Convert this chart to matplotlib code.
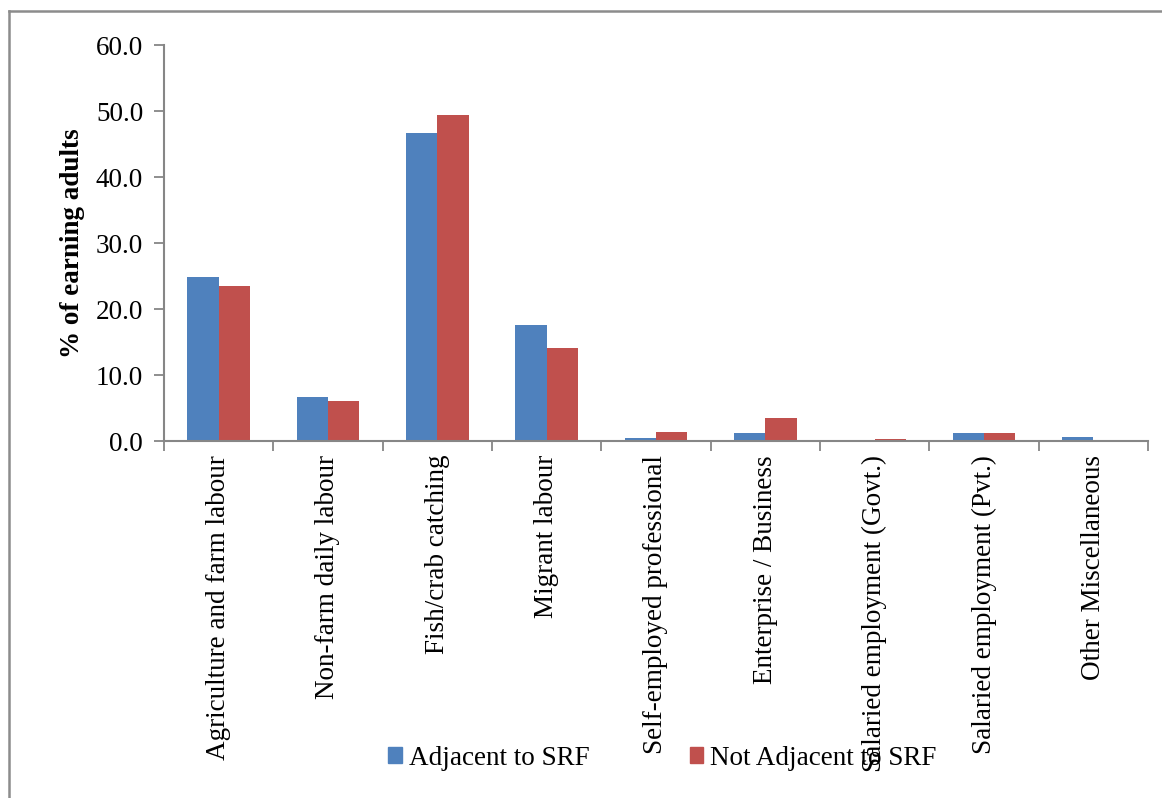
import matplotlib
matplotlib.use("Agg")
import matplotlib.pyplot as plt
from matplotlib.lines import Line2D
from matplotlib.patches import Patch
import numpy as np

categories = [
    "Agriculture and farm labour",
    "Non-farm daily labour",
    "Fish/crab catching",
    "Migrant labour",
    "Self-employed professional",
    "Enterprise / Business",
    "Salaried employment (Govt.)",
    "Salaried employment (Pvt.)",
    "Other Miscellaneous",
]
adjacent = [24.8, 6.7, 46.7, 17.6, 0.4, 1.2, 0.1, 1.2, 0.65]
not_adjacent = [23.5, 6.1, 49.4, 14.1, 1.3, 3.5, 0.35, 1.2, 0.1]
series_names = ["Adjacent to SRF", "Not Adjacent to SRF"]
yticks = [0, 10, 20, 30, 40, 50, 60]

BLUE = "#4F81BD"
RED = "#C0504D"
GREY = "#868686"
FS = 19.5

plt.rcParams["font.family"] = ["Liberation Serif", "DejaVu Serif"]

fig = plt.figure(figsize=(11.62, 7.98), dpi=100)
ax = fig.add_axes([164 / 1162, 1 - 441 / 798, (1148 - 164) / 1162, (441 - 45) / 798])

x = np.arange(len(categories))
w = 1 / 3.5
ax.bar(x - w / 2, adjacent, width=w, color=BLUE, zorder=2)
ax.bar(x + w / 2, not_adjacent, width=w, color=RED, zorder=2)

ax.set_xlim(-0.5, len(categories) - 0.5)
ax.set_ylim(0, 60)
ax.set_yticks(yticks)
ax.set_yticklabels([f"{v:.1f}" for v in yticks], fontsize=FS)

# boundaries carry the tick marks, centres carry the labels
ax.set_xticks(np.arange(-0.5, len(categories)), labels=[])
ax.set_xticks(x, minor=True)
ax.set_xticklabels(categories, minor=True, rotation=90, fontsize=FS, va="top", ha="center")
ax.tick_params(axis="x", which="major", direction="out", length=7, width=1.3, color=GREY)
ax.tick_params(axis="x", which="minor", length=0, pad=10)
ax.tick_params(axis="y", direction="out", length=7, width=1.3, color=GREY, pad=8)

for side in ("top", "right"):
    ax.spines[side].set_visible(False)
for side in ("left", "bottom"):
    ax.spines[side].set_color(GREY)
    ax.spines[side].set_linewidth(1.5)

ax.set_ylabel("% of earning adults", fontsize=FS, fontweight="bold", labelpad=8)

handles = [Patch(color=BLUE), Patch(color=RED)]
fig.legend(handles, series_names, loc="center", bbox_to_anchor=(0.57, 0.05),
           ncol=2, frameon=False, fontsize=FS, handlelength=0.5, handleheight=0.5,
           handletextpad=0.25, columnspacing=3.7)

# outer chart frame
fig.add_artist(Line2D([9 / 1162, 9 / 1162], [0, 1 - 11 / 798], transform=fig.transFigure,
                      color="#8C8C8C", lw=1.8))
fig.add_artist(Line2D([9 / 1162, 1], [1 - 11 / 798, 1 - 11 / 798], transform=fig.transFigure,
                      color="#8C8C8C", lw=1.8))

fig.savefig("out.png", dpi=100, facecolor="white")
